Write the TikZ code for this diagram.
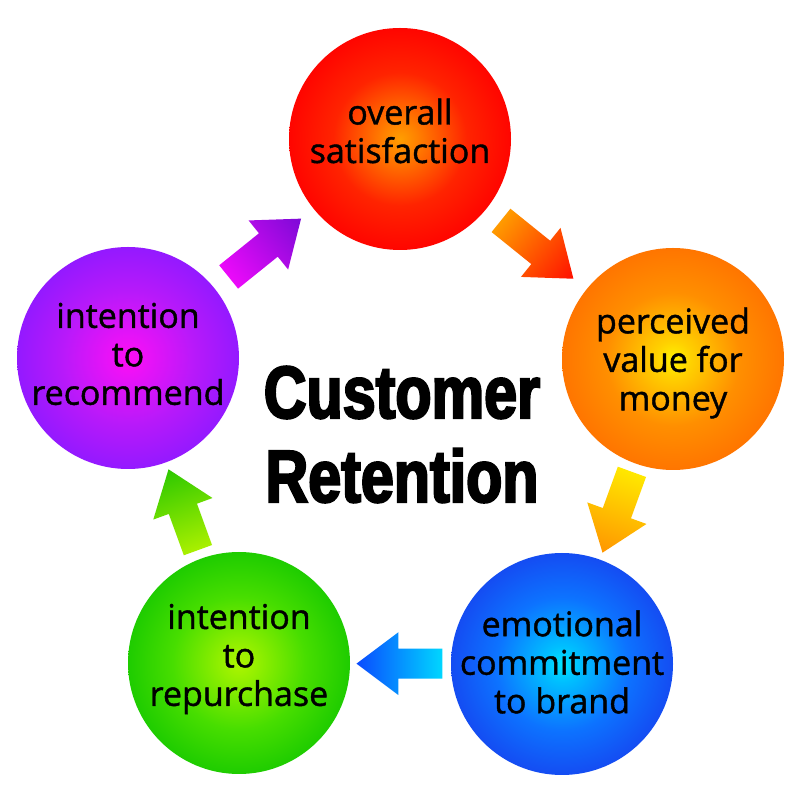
\documentclass[tikz,border=0pt]{standalone}
\usepackage{fontspec}
\setmainfont{Open Sans}[FakeBold=1.2]
\newfontfamily\titlefont[FakeStretch=0.8,BoldFeatures={FakeBold=3}]{Liberation Sans}
\usetikzlibrary{calc}
\pgfdeclareradialshading{redglow}{\pgfpoint{0bp}{0bp}}{rgb(0bp)=(1,0.62,0); rgb(4bp)=(1,0.5,0); rgb(15bp)=(1,0.14,0); rgb(25bp)=(1,0.02,0); rgb(50bp)=(1,0.02,0)}
\pgfdeclareradialshading{orangeglow}{\pgfpoint{0bp}{0bp}}{rgb(0bp)=(1,0.95,0); rgb(4bp)=(1,0.82,0); rgb(15bp)=(1,0.56,0); rgb(25bp)=(1,0.46,0); rgb(50bp)=(1,0.46,0)}
\pgfdeclareradialshading{blueglow}{\pgfpoint{0bp}{0bp}}{rgb(0bp)=(0,0.9,1); rgb(4bp)=(0,0.75,1); rgb(15bp)=(0.05,0.45,1); rgb(25bp)=(0.08,0.3,0.95); rgb(50bp)=(0.08,0.3,0.95)}
\pgfdeclareradialshading{greenglow}{\pgfpoint{0bp}{0bp}}{rgb(0bp)=(0.68,0.96,0); rgb(4bp)=(0.58,0.94,0); rgb(15bp)=(0.28,0.87,0); rgb(25bp)=(0.12,0.8,0); rgb(50bp)=(0.12,0.8,0)}
\pgfdeclareradialshading{purpleglow}{\pgfpoint{0bp}{0bp}}{rgb(0bp)=(1,0.05,0.95); rgb(4bp)=(0.92,0.07,0.97); rgb(15bp)=(0.72,0.1,0.98); rgb(25bp)=(0.58,0.1,1); rgb(50bp)=(0.58,0.1,1)}
\definecolor{pinkA}{RGB}{236,10,250}
\definecolor{violetA}{RGB}{125,10,215}
\definecolor{orangeA}{RGB}{255,155,0}
\definecolor{redA}{RGB}{255,15,0}
\definecolor{yellowA}{RGB}{255,232,0}
\definecolor{orangeB}{RGB}{255,150,0}
\definecolor{cyanA}{RGB}{0,215,255}
\definecolor{blueA}{RGB}{10,75,255}
\definecolor{limeA}{RGB}{170,240,0}
\definecolor{greenA}{RGB}{45,200,0}
\newcommand\blockarrow[6]{%
  \begin{scope}[transform canvas={shift={($(#1)!0.37!(#2)$)},rotate=#3}]
    \shade[left color=#5,right color=#6] (0,-15) -- ({#4-42},-15) -- ({#4-42},-31.5) -- (#4,0) -- ({#4-42},31.5) -- ({#4-42},15) -- (0,15) -- cycle;
  \end{scope}}
\begin{document}
\begin{tikzpicture}[x=1pt,y=1pt,
  bubble/.style={circle, minimum size=222pt, inner sep=0pt, shade},
  bubbletext/.style={align=center, inner sep=0pt, text=black, font=\fontsize{34}{38.5}\selectfont},
  titletext/.style={anchor=base, inner sep=0pt, font=\titlefont\bfseries\fontsize{74}{74}\selectfont}]
\useasboundingbox[fill=white] (0,0) rectangle (800,800);
\node[bubble, shading=redglow] (sat) at (400,661) {};
\node[bubble, shading=orangeglow] (val) at (673,441) {};
\node[bubble, shading=blueglow] (emo) at (562,136) {};
\node[bubble, shading=greenglow] (rep) at (239,137) {};
\node[bubble, shading=purpleglow] (rec) at (128,442) {};
\node[bubbletext] (satt) at ([yshift=8]sat) {overall\\satisfaction};
\node[bubbletext] (valt) at ([yshift=-4]val) {perceived\\value for\\money};
\node[bubbletext] (emot) at ([yshift=2]emo) {emotional\\commitment\\to brand};
\node[bubbletext] (rept) at ([yshift=4]rep) {intention\\to\\repurchase};
\node[bubbletext] (rect) at ([yshift=4]rec) {intention\\to\\recommend};
\node[titletext] (t1) at (402,382) {Customer};
\node[titletext] (t2) at (402,298) {Retention};
\blockarrow{rec}{sat}{38.84}{93}{pinkA}{violetA}
\blockarrow{sat}{val}{-38.86}{93}{orangeA}{redA}
\blockarrow{val}{emo}{-110}{86}{yellowA}{orangeB}
\blockarrow{emo}{rep}{180}{86}{cyanA}{blueA}
\blockarrow{rep}{rec}{110}{86}{limeA}{greenA}
\end{tikzpicture}
\end{document}
